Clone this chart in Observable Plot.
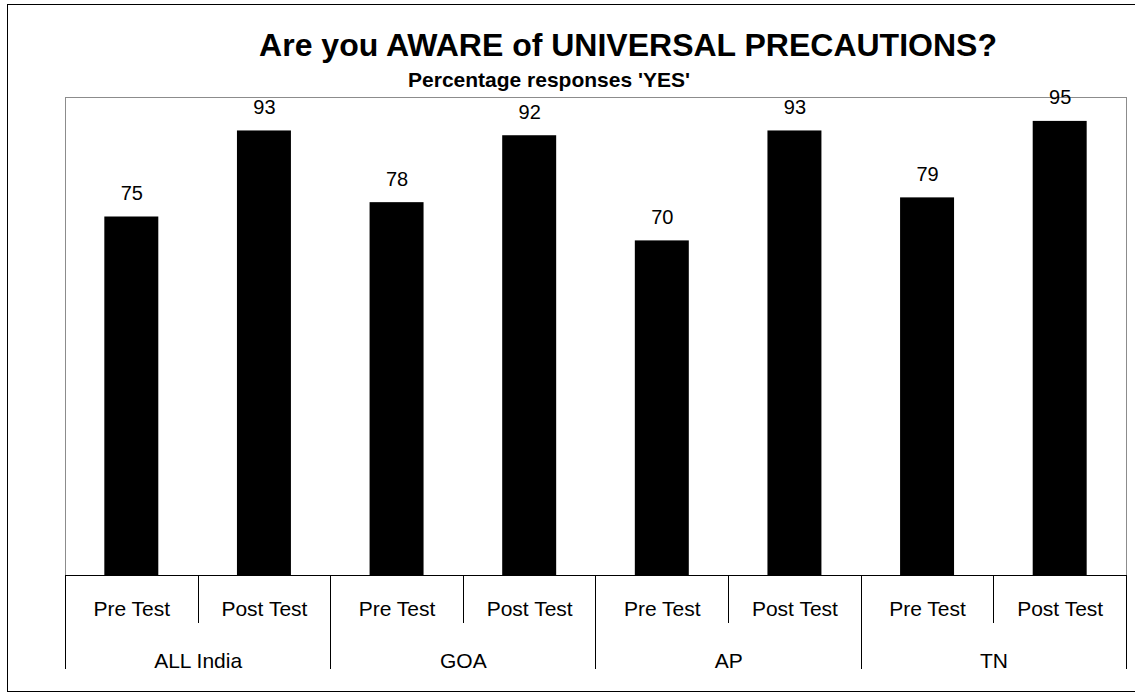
<!DOCTYPE html>
<html>
<head>
<meta charset="utf-8">
<script src="https://cdn.jsdelivr.net/npm/d3@7"></script>
<script src="https://cdn.jsdelivr.net/npm/@observablehq/plot@0.6"></script>
<style>
  html, body { margin: 0; padding: 0; background: #fff; overflow: hidden; }
  body { width: 1135px; height: 692px; position: relative; font-family: "Liberation Sans", Arial, sans-serif; }
  #border { position: absolute; left: 7px; top: 4px; width: 1128px; height: 688px; box-sizing: border-box; border: 1px solid #000; border-right: none; }
  #title { position: absolute; left: 628px; top: 29px; transform: translateX(-50%); font-size: 32px; line-height: 32px; font-weight: bold; white-space: nowrap; color: #000; }
  #subtitle { position: absolute; left: 549px; top: 69px; transform: translateX(-50%); font-size: 21px; line-height: 21px; font-weight: bold; white-space: nowrap; color: #000; }
  #chart { position: absolute; left: 0; top: 90px; }
</style>
</head>
<body>
<div id="border"></div>
<div id="title">Are you AWARE of UNIVERSAL PRECAUTIONS?</div>
<div id="subtitle">Percentage responses 'YES'</div>
<div id="chart"></div>
<script>
const groups = ["ALL India", "GOA", "AP", "TN"];
const tests = ["Pre Test", "Post Test"];
const preValues = [75, 78, 70, 79];
const postValues = [93, 92, 93, 95];

const rows = [];
groups.forEach((g, i) => {
  rows.push({group: g, test: tests[0], value: preValues[i], key: g + "|" + tests[0]});
  rows.push({group: g, test: tests[1], value: postValues[i], key: g + "|" + tests[1]});
});
const keys = rows.map(d => d.key);

const W = 1135, H = 602, mL = 65, mR = 9, mT = 7, mB = 117;
const PAD = 0.593;
const step = (W - mL - mR) / keys.length;

function tableLines(index, scales, values, dimensions) {
  const x = scales.x;
  const st = x(keys[1]) - x(keys[0]);
  const bw = st * (1 - PAD);
  const y0 = scales.y(0);
  const g = d3.create("svg:g").attr("stroke", "#000").attr("stroke-width", 1);
  for (let j = 0; j <= keys.length; j++) {
    const px = j < keys.length ? x(keys[j]) + bw / 2 - st / 2 : x(keys[keys.length - 1]) + bw / 2 + st / 2;
    const xx = Math.round(px) + 0.5;
    const long = j % 2 === 0;
    g.append("line").attr("x1", xx).attr("x2", xx).attr("y1", y0).attr("y2", y0 + (long ? 94 : 48));
  }
  return g.node();
}

const plot = Plot.plot({
  width: W,
  height: H,
  marginLeft: mL,
  marginRight: mR,
  marginTop: mT,
  marginBottom: mB,
  style: {fontFamily: "'Liberation Sans', Arial, sans-serif", background: "transparent", overflow: "visible"},
  x: {domain: keys, paddingInner: PAD, paddingOuter: PAD / 2, round: false, axis: null},
  y: {domain: [0, 100], axis: null},
  marks: [
    Plot.frame({stroke: "#8c8c8c"}),
    Plot.barY(rows, {x: "key", y: "value", fill: "#000"}),
    Plot.ruleY([0], {stroke: "#000"}),
    tableLines,
    Plot.text(rows, {x: "key", y: "value", text: d => String(d.value), lineAnchor: "bottom", dy: -17, fontSize: 20, fill: "#000"}),
    Plot.text(rows, {x: "key", text: "test", frameAnchor: "bottom", lineAnchor: "bottom", dy: 40, fontSize: 21, fill: "#000"}),
    Plot.text(rows.filter(d => d.test === tests[0]), {x: "key", text: "group", frameAnchor: "bottom", lineAnchor: "bottom", dx: step / 2, dy: 92, fontSize: 21, fill: "#000"})
  ]
});
document.getElementById("chart").appendChild(plot);
</script>
</body>
</html>
